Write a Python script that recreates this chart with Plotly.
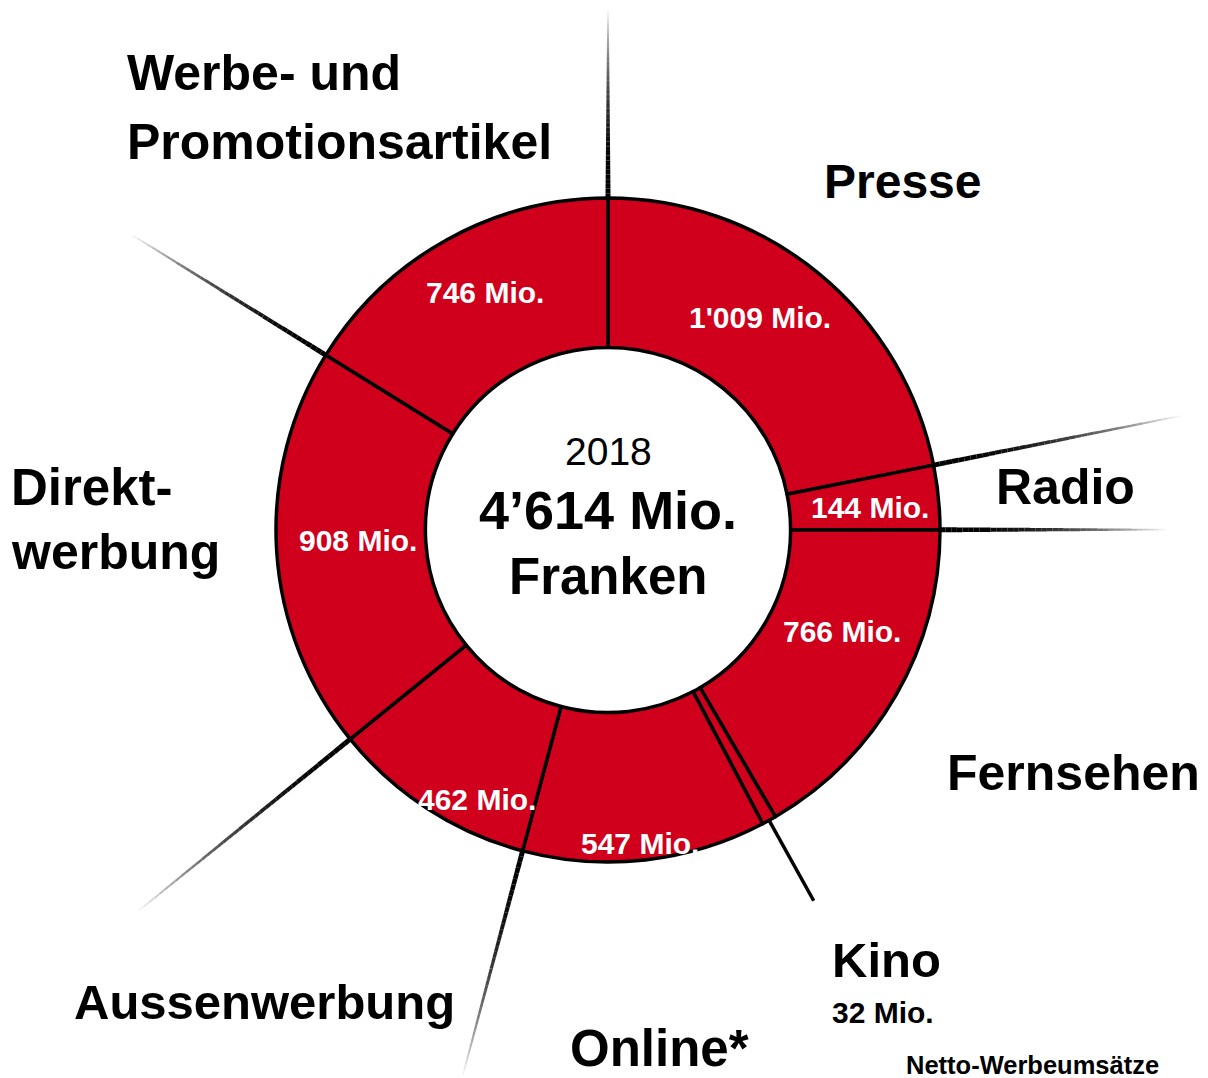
import math
import plotly.graph_objects as go

# Netto-Werbeumsätze 2018, Mio. Franken (Reihenfolge im Uhrzeigersinn ab 12 Uhr)
kategorien = ["Presse", "Radio", "Fernsehen", "Kino", "Online*",
              "Aussenwerbung", "Direktwerbung", "Werbe- und Promotionsartikel"]
werte = [1009, 144, 766, 32, 547, 462, 908, 746]
wert_labels = ["1'009 Mio.", "144 Mio.", "766 Mio.", "", "547 Mio.",
               "462 Mio.", "908 Mio.", "746 Mio."]
total_text = "4’614 Mio."
jahr = "2018"

# Seite hat 8px Rand -> Figur etwas kleiner, Koordinaten verschoben
OFF = 8
W, H = 1200, 1070
CX, CY, R_OUT = 608, 530, 332
HOLE = 0.55
ROT = "#D0001C"
FONT = "Liberation Sans"


def paper(xp, yp):
    return (xp - OFF) / W, 1 - (yp - OFF) / H


def polar(r, deg):
    a = math.radians(deg)
    return CX + r * math.sin(a), CY - r * math.cos(a)


total = sum(werte)
grenzen = [0.0]
for v in werte:
    grenzen.append(grenzen[-1] + v / total * 360.0)
mitte = [(grenzen[i] + grenzen[i + 1]) / 2 for i in range(len(werte))]

x0d, y1d = paper(CX - R_OUT, CY - R_OUT)
x1d, y0d = paper(CX + R_OUT, CY + R_OUT)

fig = go.Figure()
fig.add_trace(go.Pie(
    labels=kategorien,
    values=werte,
    sort=False,
    direction="clockwise",
    rotation=0,
    hole=HOLE,
    textinfo="none",
    hoverinfo="label+value",
    marker=dict(colors=[ROT] * len(werte), line=dict(color="black", width=3.5)),
    domain=dict(x=[x0d, x1d], y=[y0d, y1d]),
    showlegend=False,
))

shapes = []


def strahl(deg, r_end, fade=True, n=40):
    for i in range(n):
        t0, t1 = i / n, (i + 1) / n
        x0, y0 = paper(*polar(R_OUT + (r_end - R_OUT) * t0, deg))
        x1, y1 = paper(*polar(R_OUT + (r_end - R_OUT) * t1, deg))
        if fade:
            a = max(0.0, 1 - t0 ** 2.2)
            w = 5.0 - 3.5 * t0
        else:
            a, w = 1.0, 3.5
        shapes.append(dict(type="line", xref="paper", yref="paper",
                           x0=x0, y0=y0, x1=x1, y1=y1,
                           line=dict(color=f"rgba(0,0,0,{a:.3f})", width=w)))


# Verlängerte Segmentgrenzen (Index der Grenze, Endradius in px)
strahl_grenzen = [(0, 520), (1, 583), (2, 557), (5, 564), (6, 604), (7, 559)]
for gi, r_end in strahl_grenzen:
    strahl(grenzen[gi], r_end)
# Kino: durchgehende Linie
strahl(mitte[3], 424, fade=False, n=1)

annotations = []

# Wertelabels in den Segmenten (Radius px, Winkelkorrektur)
label_r = [261, 263, 255, 0, 315, 300, 250, 267]
label_dw = [-3.8, 0.8, -6.3, 0, 0.6, -7.0, 1.3, 1.7]
for i, txt in enumerate(wert_labels):
    if not txt:
        continue
    x, y = paper(*polar(label_r[i], mitte[i] + label_dw[i]))
    annotations.append(dict(x=x, y=y, xref="paper", yref="paper",
                            text=f"<b>{txt}</b>", borderpad=0,
                            showarrow=False, xanchor="center", yanchor="middle",
                            font=dict(family=FONT, size=30, color="white")))

# Zentrumstext
for txt, yp, size, bold in [(jahr, 451, 39, False), (total_text, 510, 54, True),
                            ("Franken", 576, 51, True)]:
    x, y = paper(CX, yp)
    annotations.append(dict(x=x, y=y, xref="paper", yref="paper",
                            text=f"<b>{txt}</b>" if bold else txt,
                            showarrow=False, xanchor="center", yanchor="middle",
                            font=dict(family=FONT, size=size, color="black")))

# Kategorienbeschriftungen aussen
aussen = [
    ("Werbe- und", 126, 73, 50), ("Promotionsartikel", 126, 142, 50),
    ("Presse", 823, 182, 48), ("Radio", 995, 487, 50),
    ("Direkt-", 10, 487, 51), ("werbung", 10, 552, 50),
    ("Fernsehen", 946, 773, 50), ("Kino", 831, 960, 49),
    ("32 Mio.", 831, 1012, 30), ("Aussenwerbung", 73, 1002, 49),
    ("Online*", 569, 1048, 51), ("Netto-Werbeumsätze", 905, 1065, 25.5),
]
for txt, xp, yp, size in aussen:
    x, y = paper(xp, yp)
    annotations.append(dict(x=x, y=y, xref="paper", yref="paper",
                            text=f"<b>{txt}</b>", showarrow=False, borderpad=0,
                            xanchor="left", yanchor="middle",
                            font=dict(family=FONT, size=size, color="black")))

fig.update_layout(
    width=W, height=H,
    margin=dict(l=0, r=0, t=0, b=0),
    paper_bgcolor="white",
    plot_bgcolor="white",
    shapes=shapes,
    annotations=annotations,
)

fig.write_html("out.html")
